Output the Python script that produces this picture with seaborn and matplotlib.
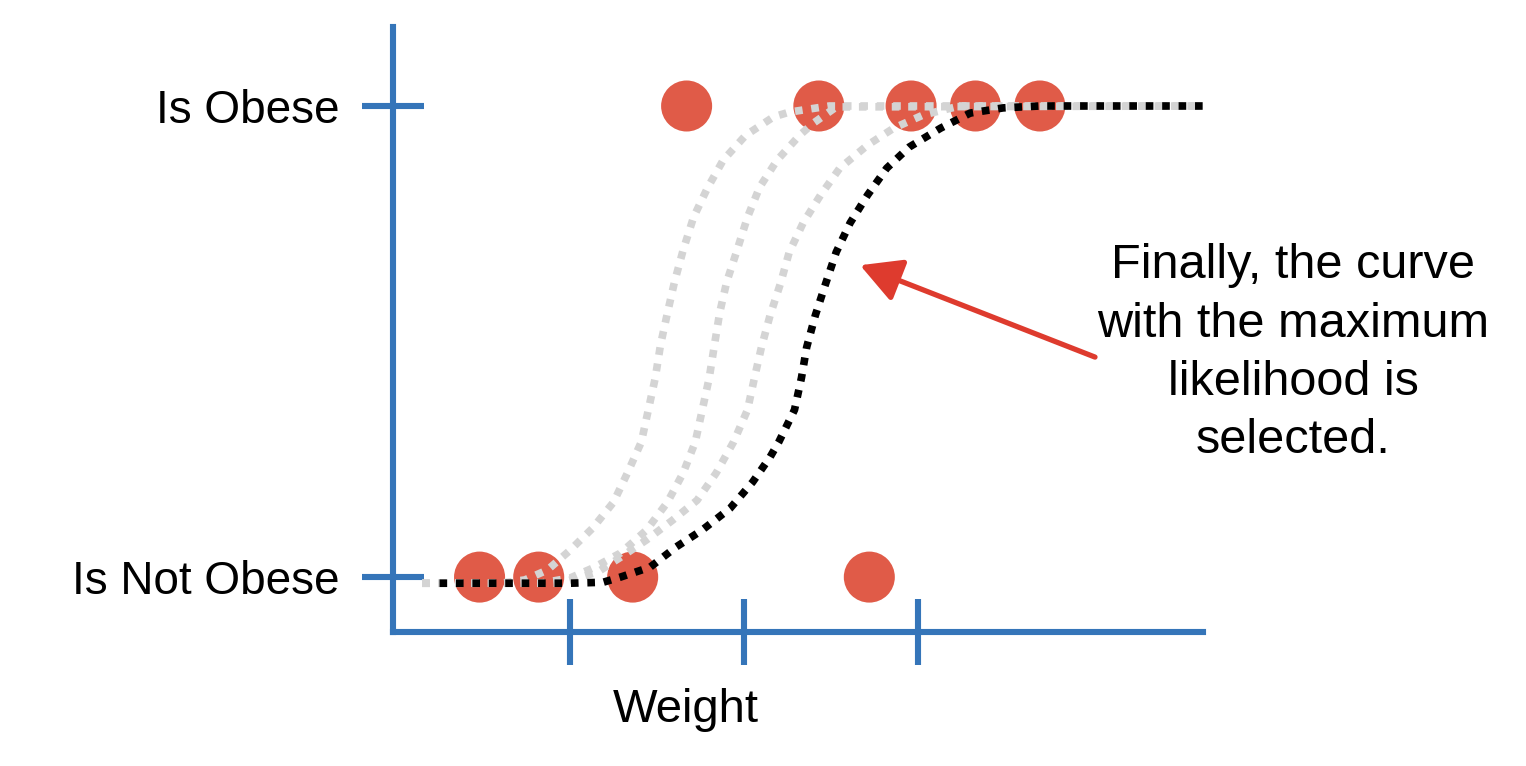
#importing necessary libraries
import numpy as np
import pandas as pd
import matplotlib.pyplot as plt
import seaborn as sns

#data (weight units: ticks at 1, 2, 3; 0 = not obese, 1 = obese)
obese_weight = [1.67, 2.43, 2.96, 3.33, 3.70]
not_obese_weight = [0.48, 0.82, 1.36, 2.72]

#candidate curves tried before (light gray), left to right
gray1_x = [0.15, 0.60, 0.74, 0.87, 1.00, 1.13, 1.25, 1.33, 1.41, 1.45, 1.49, 1.52, 1.56, 1.60,
           1.65, 1.71, 1.79, 1.88, 2.01, 2.17, 2.26, 2.49, 4.64]
gray1_y = [-0.013, -0.013, -0.006, 0.015, 0.057, 0.104, 0.159, 0.221, 0.287, 0.355, 0.423, 0.493,
           0.561, 0.626, 0.694, 0.764, 0.826, 0.885, 0.938, 0.977, 0.987, 1.0, 1.0]

gray2_x = [0.15, 0.83, 1.00, 1.13, 1.29, 1.44, 1.56, 1.65, 1.72, 1.76, 1.80, 1.83, 1.86, 1.90,
           1.96, 2.02, 2.09, 2.19, 2.32, 2.40, 2.53, 4.64]
gray2_y = [-0.013, -0.013, -0.002, 0.019, 0.051, 0.100, 0.159, 0.221, 0.287, 0.355, 0.423, 0.493,
           0.561, 0.626, 0.694, 0.764, 0.828, 0.885, 0.938, 0.964, 0.998, 1.0]

gray3_x = [0.15, 0.94, 1.16, 1.29, 1.44, 1.59, 1.73, 1.84, 1.94, 2.02, 2.06, 2.10, 2.15, 2.21,
           2.26, 2.34, 2.44, 2.55, 2.71, 2.86, 3.03, 3.24, 4.64]
gray3_y = [-0.013, -0.013, 0.011, 0.042, 0.079, 0.121, 0.163, 0.221, 0.287, 0.355, 0.423, 0.488,
           0.556, 0.624, 0.690, 0.752, 0.811, 0.868, 0.917, 0.953, 0.981, 1.0, 1.0]

#the selected curve (maximum likelihood)
best_x = [0.25, 1.00, 1.19, 1.29, 1.46, 1.61, 1.76, 1.92, 2.05, 2.15, 2.20, 2.29, 2.33, 2.36,
          2.41, 2.47, 2.53, 2.61, 2.71, 2.82, 2.95, 3.13, 3.30, 3.49, 3.70, 4.64]
best_y = [-0.013, -0.013, -0.011, 0.0, 0.021, 0.064, 0.100, 0.146, 0.202, 0.255, 0.287, 0.355,
          0.423, 0.488, 0.556, 0.624, 0.690, 0.752, 0.811, 0.868, 0.913, 0.953, 0.985, 0.996,
          1.0, 1.0]

y_tick_labels = ["Is Not Obese", "Is Obese"]
x_ticks = [1, 2, 3]
note = "Finally, the curve\nwith the maximum\nlikelihood is\nselected."

#colours
blue = "#3575B9"
dot_red = "#E05B48"
arrow_red = "#DE3B2E"
light_gray = "#D4D4D4"

sns.set_theme(style="white")
plt.rcParams['font.family'] = ['Liberation Sans', 'DejaVu Sans']

points = pd.DataFrame({
    "weight": obese_weight + not_obese_weight,
    "obese": [1] * len(obese_weight) + [0] * len(not_obese_weight),
})

fig = plt.figure(figsize=(15.26, 7.66), dpi=100)
ax = fig.add_axes([0, 0, 1, 1])
ax.set_facecolor("white")

sns.scatterplot(data=points, x="weight", y="obese", s=1350, color=dot_red,
                edgecolor="none", linewidth=0, ax=ax, zorder=2)

dotted = (0, (1, 1.15))
for cx, cy in [(gray1_x, gray1_y), (gray2_x, gray2_y), (gray3_x, gray3_y)]:
    sns.lineplot(x=cx, y=cy, sort=False, estimator=None, color=light_gray, linewidth=5.5,
                 linestyle=dotted, dash_capstyle="butt", ax=ax, zorder=3)
sns.lineplot(x=best_x, y=best_y, sort=False, estimator=None, color="black", linewidth=5.5,
             linestyle=dotted, dash_capstyle="butt", ax=ax, zorder=4)

#axis frame: full-figure axes, spines moved into place
ax.set_xlim(-2.276, 6.494)
ax.set_ylim(-0.401, 1.225)
for side in ["top", "right"]:
    ax.spines[side].set_visible(False)
ax.spines["left"].set_position(("data", -0.017))
ax.spines["left"].set_bounds(-0.117, 1.168)
ax.spines["bottom"].set_position(("data", -0.117))
ax.spines["bottom"].set_bounds(-0.017, 4.638)
for side in ["left", "bottom"]:
    ax.spines[side].set_color(blue)
    ax.spines[side].set_linewidth(4.4)
    ax.spines[side].set_capstyle("projecting")

ax.set_yticks([0, 1], y_tick_labels)
ax.set_xticks(x_ticks, ["" for _ in x_ticks])
ax.tick_params(axis="y", direction="inout", length=45, width=4.4, color=blue,
               labelsize=33, pad=16, labelcolor="black", left=True)
ax.tick_params(axis="x", direction="inout", length=47, width=4.4, color=blue,
               bottom=True)
ax.set_xlabel("")
ax.set_ylabel("")
ax.text(1.667, -0.308, "Weight", ha="center", va="baseline", fontsize=34, color="black")

#annotation
ax.annotate("", xy=(2.667, 0.662), xytext=(4.017, 0.467),
            arrowprops=dict(arrowstyle="-|>,head_length=2.5,head_width=1.35",
                            mutation_scale=10, color=arrow_red, lw=3.8,
                            shrinkA=0, shrinkB=0))
ax.text(5.155, 0.475, note, ha="center", va="center", multialignment="center",
        fontsize=35, color="black", linespacing=1.38)

plt.savefig("out.png", dpi=100, facecolor="white")
plt.close()
